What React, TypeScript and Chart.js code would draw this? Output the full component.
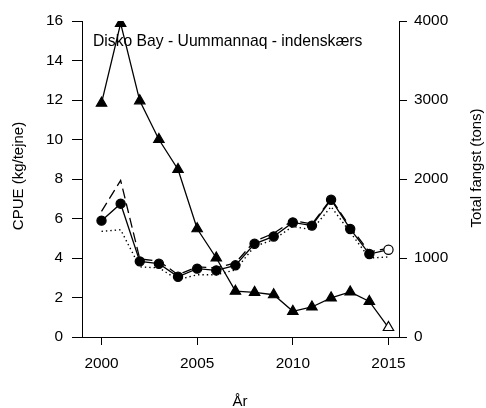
import React, { useEffect, useRef } from "react";
import { Chart, registerables } from "chart.js";

Chart.register(...registerables);

const years = [2000, 2001, 2002, 2003, 2004, 2005, 2006, 2007, 2008, 2009, 2010, 2011, 2012, 2013, 2014, 2015];
// Total catch (tons), right axis
const totalCatch = [2960, 3970, 2990, 2500, 2120, 1370, 1000, 580, 565, 535, 325, 380, 495, 570, 450, 120];
// CPUE (kg/tejne), left axis
const cpue = [5.89, 6.75, 3.83, 3.71, 3.05, 3.46, 3.37, 3.63, 4.72, 5.09, 5.8, 5.64, 6.95, 5.47, 4.2, 4.42];
const cpueDashed = [6.36, 7.93, 3.95, 3.85, 3.15, 3.55, 3.5, 3.75, 4.85, 5.25, 5.9, 5.72, 7.0, 5.57, 4.3, 4.5];
const cpueDotted = [5.35, 5.43, 3.55, 3.5, 2.9, 3.15, 3.15, 3.4, 4.59, 4.93, 5.6, 5.43, 6.6, 5.3, 4.0, 4.05];

const xTicks = [2000, 2005, 2010, 2015];
const leftTicks = [0, 2, 4, 6, 8, 10, 12, 14, 16];
const rightTicks = [0, 1000, 2000, 3000, 4000];

const titleText = "Disko Bay - Uummannaq - indenskærs";
const leftTitle = "CPUE (kg/tejne)";
const rightTitle = "Total fangst (tons)";
const xTitle = "År";

const FONT_FAMILY = "'Liberation Sans', Arial, sans-serif";
const FONT_SIZE = 15.4;

const pts = (vals: number[]) => vals.map((v, i) => ({ x: years[i], y: v }));
const fills = (n: number) => years.map((_, i) => (i === n - 1 ? "#ffffff" : "#000000"));

const textPlugin = {
  id: "textPlugin",
  afterDraw(chart: any) {
    const ctx = chart.ctx;
    ctx.save();
    ctx.fillStyle = "#000";
    ctx.font = `15.7px ${FONT_FAMILY}`;
    ctx.textAlign = "left";
    ctx.textBaseline = "alphabetic";
    ctx.fillText(titleText, 93, 46);

    ctx.font = `15px ${FONT_FAMILY}`;
    ctx.textAlign = "center";
    ctx.textBaseline = "alphabetic";
    ctx.fillText(xTitle, 240, 406);

    ctx.textBaseline = "middle";
    ctx.save();
    ctx.translate(19, 176);
    ctx.rotate(-Math.PI / 2);
    ctx.fillText(leftTitle, 0, 0);
    ctx.restore();

    ctx.save();
    ctx.translate(477, 168);
    ctx.rotate(-Math.PI / 2);
    ctx.fillText(rightTitle, 0, 0);
    ctx.restore();
    ctx.restore();
  },
};

export default function App() {
  const ref = useRef<HTMLCanvasElement | null>(null);

  useEffect(() => {
    if (!ref.current) return;
    const font = { family: FONT_FAMILY, size: FONT_SIZE };
    const chart = new Chart(ref.current, {
      type: "line",
      data: {
        datasets: [
          {
            label: "CPUE",
            data: pts(cpue),
            yAxisID: "y",
            borderColor: "#000",
            borderWidth: 1.3,
            pointStyle: "circle",
            pointRadius: 4.6,
            pointBorderWidth: 1.2,
            pointBorderColor: "#000",
            pointBackgroundColor: fills(cpue.length),
            tension: 0,
          },
          {
            label: "Total fangst",
            data: pts(totalCatch),
            yAxisID: "y2",
            borderColor: "#000",
            borderWidth: 1.3,
            pointStyle: "triangle",
            pointRadius: 6,
            pointBorderWidth: 1.2,
            pointBorderColor: "#000",
            pointBackgroundColor: fills(totalCatch.length),
            tension: 0,
          },
          {
            label: "CPUE dashed",
            data: pts(cpueDashed),
            yAxisID: "y",
            borderColor: "#000",
            borderWidth: 1.3,
            borderDash: [10, 5],
            pointRadius: 0,
            tension: 0,
          },
          {
            label: "CPUE dotted",
            data: pts(cpueDotted),
            yAxisID: "y",
            borderColor: "#000",
            borderWidth: 1.4,
            borderDash: [1.4, 3],
            pointRadius: 0,
            tension: 0,
          },
        ],
      },
      options: {
        responsive: false,
        animation: false,
        devicePixelRatio: 1,
        layout: { padding: { top: 21, left: 0, right: 0, bottom: 0 } },
        plugins: { legend: { display: false }, tooltip: { enabled: false }, title: { display: false } },
        scales: {
          x: {
            type: "linear",
            min: 1998.98,
            max: 2015.55,
            afterBuildTicks: (s: any) => {
              s.ticks = xTicks.map((v) => ({ value: v }));
            },
            afterFit: (s: any) => {
              s.height = 71;
            },
            ticks: { font, color: "#000", padding: 10, callback: (v: any) => String(v), autoSkip: false, maxRotation: 0 },
            grid: { drawOnChartArea: false, drawTicks: true, tickLength: 8, color: "#000", lineWidth: 1 },
            border: { display: true, color: "#000", width: 1 },
          },
          y: {
            position: "left",
            min: 0,
            max: 16,
            afterBuildTicks: (s: any) => {
              s.ticks = leftTicks.map((v) => ({ value: v }));
            },
            afterFit: (s: any) => {
              s.width = 82;
            },
            ticks: { font, color: "#000", padding: 9, callback: (v: any) => String(v) },
            grid: { drawOnChartArea: false, drawTicks: true, tickLength: 10, color: "#000", lineWidth: 1 },
            border: { display: true, color: "#000", width: 1 },
          },
          y2: {
            position: "right",
            min: 0,
            max: 4000,
            afterBuildTicks: (s: any) => {
              s.ticks = rightTicks.map((v) => ({ value: v }));
            },
            afterFit: (s: any) => {
              s.width = 87;
            },
            ticks: { font, color: "#000", padding: 7, callback: (v: any) => String(v) },
            grid: { drawOnChartArea: false, drawTicks: true, tickLength: 8, color: "#000", lineWidth: 1 },
            border: { display: true, color: "#000", width: 1 },
          },
        },
      },
      plugins: [textPlugin],
    } as any);
    return () => chart.destroy();
  }, []);

  return (
    <div style={{ position: "absolute", left: 0, top: 0, width: 486, height: 408, background: "#fff" }}>
      <canvas ref={ref} width={486} height={408} style={{ display: "block" }} />
    </div>
  );
}
